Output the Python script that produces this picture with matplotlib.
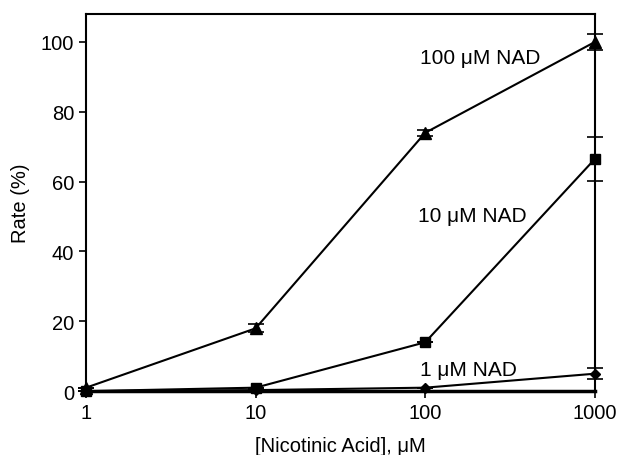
import matplotlib.pyplot as plt
from matplotlib.ticker import FixedLocator, NullLocator

plt.rcParams['font.family'] = ['Liberation Sans', 'DejaVu Sans']

# Data
conc = [1, 10, 100, 1000]
nad100 = [1, 18, 74, 100]
nad100_err = [0, 1.2, 0.8, 2.3]
nad10 = [0, 1, 14, 66.5]
nad10_err = [0, 0, 0, 6.2]
nad1 = [0, 0.3, 1, 5]
nad1_err = [0, 0, 0, 1.5]

fig = plt.figure(figsize=(6.19, 4.56), dpi=100)
ax = fig.add_axes([0.139, 0.140, 0.822, 0.827])

kw = dict(color='black', linewidth=1.5, capsize=6, elinewidth=1.2, capthick=1.2, clip_on=False)
ax.errorbar(conc, nad100, yerr=nad100_err, marker='^', markersize=8, **kw)
ax.errorbar(conc, nad10, yerr=nad10_err, marker='s', markersize=7, **kw)
ax.errorbar(conc, nad1, yerr=nad1_err, marker='D', markersize=5, **kw)

ax.set_xscale('log')
ax.set_xlim(1, 1000)
ax.set_ylim(0, 108)
ax.xaxis.set_major_locator(FixedLocator(conc))
ax.xaxis.set_minor_locator(NullLocator())
ax.set_xticklabels(['1', '10', '100', '1000'])
ax.set_yticks([0, 20, 40, 60, 80, 100])
ax.tick_params(direction='out', length=5, width=1.2, labelsize=14.5)

for s in ax.spines.values():
    s.set_linewidth(1.5)
ax.spines['bottom'].set_linewidth(2.5)

W, H = 619, 456
for label, px, py in [('100 μM NAD', 480, 58), ('10 μM NAD', 472, 217), ('1 μM NAD', 468, 371)]:
    fig.text(px / W, 1 - py / H, label, fontsize=15, ha='center', va='center')

ax.set_xlabel('[Nicotinic Acid], μM', fontsize=14.5, labelpad=10)
ax.set_ylabel('Rate (%)', fontsize=14.5, labelpad=8)

plt.savefig('out.png', dpi=100)
